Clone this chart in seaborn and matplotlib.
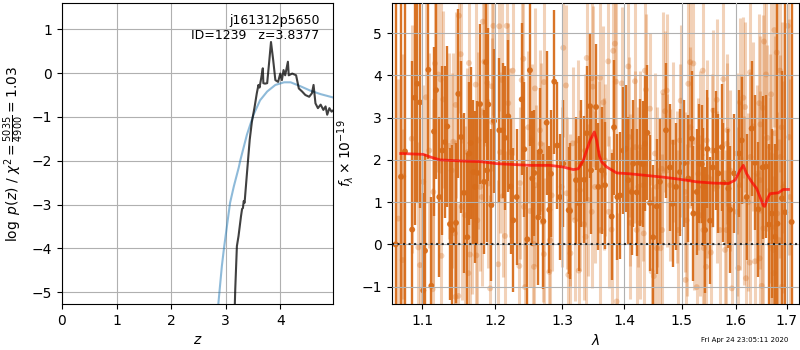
import matplotlib
matplotlib.use("Agg")
import matplotlib.pyplot as plt
from matplotlib.ticker import NullLocator, NullFormatter, FixedLocator, FixedFormatter
import seaborn as sns

# ---------------- redshift probability ----------------
z_grid = [3.16, 3.175, 3.205, 3.235, 3.28, 3.30, 3.316, 3.33, 3.346, 3.39,
          3.44, 3.48, 3.53, 3.57, 3.60, 3.62, 3.65, 3.68, 3.69, 3.72,
          3.76, 3.80, 3.83, 3.87, 3.91, 3.96, 4.00, 4.03, 4.06, 4.09,
          4.14, 4.155, 4.22, 4.29, 4.34, 4.40, 4.46, 4.53, 4.58, 4.61,
          4.645, 4.69, 4.74, 4.79, 4.83, 4.86, 4.90, 4.94, 4.98]
log_pz = [-5.6, -4.93, -3.95, -3.72, -3.27, -3.10, -3.08, -2.92, -2.96, -2.28,
          -1.52, -1.11, -0.77, -0.46, -0.27, -0.33, -0.12, 0.11, -0.23, -0.24,
          -0.23, 0.30, 0.71, 0.30, -0.16, -0.20, -0.01, -0.16, 0.07, -0.05,
          0.26, -0.05, -0.01, -0.05, -0.35, -0.42, -0.50, -0.54, -0.46, -0.27,
          -0.69, -0.80, -0.72, -0.84, -0.76, -0.95, -0.80, -0.88, -0.84]

z_chi2 = [2.84, 2.93, 2.97, 3.08, 3.15, 3.24, 3.27, 3.39, 3.51, 3.63,
          3.76, 3.91, 4.07, 4.19, 4.37, 4.55, 4.74, 4.98]
chi2_curve = [-5.6, -4.40, -3.98, -2.96, -2.58, -2.15, -1.98, -1.40, -0.95, -0.62,
              -0.42, -0.27, -0.21, -0.21, -0.30, -0.40, -0.48, -0.56]

# ---------------- binned spectrum ----------------
bin_wave = [1.0655, 1.0724, 1.0775, 1.0868, 1.0903, 1.0932, 1.0970, 1.1013, 1.1036, 1.1080,
            1.1120, 1.1155, 1.1182, 1.1226, 1.1266, 1.1303, 1.1333, 1.1370, 1.1401, 1.1452,
            1.1484, 1.1521, 1.1562, 1.1608, 1.1635, 1.1655, 1.1692, 1.1715, 1.1748, 1.1786,
            1.1843, 1.1871, 1.1885, 1.1903, 1.1946, 1.1985, 1.2060, 1.2113, 1.2142, 1.2190,
            1.2225, 1.2263, 1.2313, 1.2387, 1.2426, 1.2471, 1.2510, 1.2545, 1.2575, 1.2635,
            1.2661, 1.2711, 1.2762, 1.2802, 1.2828, 1.2879, 1.2925, 1.2967, 1.3018, 1.3103,
            1.3123, 1.3218, 1.3270, 1.3292, 1.3348, 1.3388, 1.3441, 1.3457, 1.3538, 1.3575,
            1.3630, 1.3684, 1.3794, 1.3832, 1.3887, 1.3931, 1.3986, 1.4031, 1.4070, 1.4127,
            1.4154, 1.4212, 1.4267, 1.4313, 1.4353, 1.4393, 1.4439, 1.4496, 1.4555, 1.4612,
            1.4718, 1.4788, 1.4836, 1.4895, 1.4966, 1.5038, 1.5116, 1.5178, 1.5207, 1.5269,
            1.5317, 1.5360, 1.5390, 1.5421, 1.5463, 1.5514, 1.5564, 1.5625, 1.5668, 1.5732,
            1.5762, 1.5857, 1.5889, 1.5965, 1.6065, 1.6111, 1.6207, 1.6304, 1.6369, 1.6434,
            1.6520, 1.6587, 1.6642, 1.6702, 1.6768, 1.6815, 1.6904, 1.6971, 1.7102]
bin_flux = [0.00, 1.60, 2.20, 0.35, 3.47, 3.80, 3.36, -1.09, -0.15, 4.13,
            -0.98, 2.67, 3.65, 1.12, 2.22, 2.42, 2.79, 0.48, 0.34, 0.51,
            3.56, 2.54, 1.22, 0.17, 2.15, 2.40, 1.71, 1.36, 1.69, 3.32,
            1.48, 4.31, 1.75, 3.31, 0.93, 2.92, 2.70, 2.70, 2.52, 3.03,
            1.37, 0.57, 1.12, 3.43, 2.25, 0.12, 4.12, 1.56, 1.69, 0.64,
            2.20, 0.55, 2.88, 0.82, 1.67, 3.85, 2.34, 1.12, 1.91, 0.81,
            0.79, 1.52, 0.97, 1.91, 1.53, 2.63, 3.27, 1.75, 3.25, 1.36,
            1.75, 1.40, 0.66, 2.77, 1.12, 1.16, 2.22, 2.26, 1.52, 1.24,
            1.91, 1.23, 1.93, 1.90, 2.38, 2.64, 0.98, 0.17, 0.90, 1.48,
            2.70, 1.82, 0.96, 1.36, 1.71, 1.92, 1.56, 2.50, 0.73, 1.24,
            1.91, 1.90, 1.36, 0.34, 2.26, 0.56, 1.82, 2.22, 1.68, 2.30,
            1.46, 1.32, 0.82, 1.68, 2.15, 2.46, 1.12, 2.74, 1.93, 0.83,
            1.82, 1.84, 0.47, 0.73, 0.18, 0.49, 1.09, 0.76, 0.53]
bin_err = [9.0, 5.0, 4.5, 4.0, 3.0, 2.8, 2.5, 2.3, 2.3, 2.1,
           2.1, 2.0, 2.1, 1.9, 2.0, 1.8, 1.9, 1.8, 2.0, 1.9,
           2.0, 1.8, 1.9, 2.0, 1.7, 1.8, 1.7, 1.8, 1.7, 1.9,
           1.7, 1.9, 1.7, 1.8, 1.8, 1.7, 1.7, 1.6, 1.7, 1.8,
           1.6, 1.7, 1.6, 1.8, 1.6, 1.7, 1.8, 1.6, 1.5, 1.6,
           1.5, 1.6, 1.7, 1.5, 1.5, 1.7, 1.5, 1.5, 1.5, 1.5,
           1.6, 1.5, 1.6, 1.5, 1.5, 1.6, 1.7, 1.5, 1.5, 1.5,
           1.5, 1.5, 1.5, 1.6, 1.5, 1.5, 1.5, 1.5, 1.5, 1.5,
           1.5, 1.5, 1.5, 1.5, 1.6, 1.6, 1.6, 1.7, 1.6, 1.5,
           1.6, 1.5, 1.5, 1.5, 1.5, 1.5, 1.5, 1.6, 1.6, 1.5,
           1.4, 1.4, 1.4, 1.5, 1.4, 1.5, 1.4, 1.4, 1.4, 1.5,
           1.4, 1.4, 1.5, 1.4, 1.5, 1.5, 1.5, 1.6, 1.6, 1.6,
           1.7, 1.7, 1.9, 2.0, 2.2, 6.0, 3.0, 8.0, 8.0]

# ---------------- individual exposures ----------------
exp_wave = [1.0689, 1.0745, 1.0753, 1.0862, 1.0948, 1.0970, 1.1013, 1.1049, 1.1092, 1.1137, 1.1146,
            1.1168, 1.1212, 1.1244, 1.1255, 1.1279, 1.1361, 1.1393, 1.1415, 1.1438, 1.1445, 1.1448,
            1.1484, 1.1493, 1.1517, 1.1530, 1.1576, 1.1608, 1.1622, 1.1631, 1.1645, 1.1669, 1.1725,
            1.1735, 1.1747, 1.1762, 1.1786, 1.1810, 1.1824, 1.1846, 1.1889, 1.1903, 1.1928, 1.1952,
            1.1975, 1.2060, 1.2167, 1.2095, 1.2254, 1.2387, 1.2411, 1.2585, 1.2722, 1.3018,
            1.3061, 1.3388, 1.3468, 1.1960, 1.2190, 1.2485, 1.2661, 1.2536, 1.2671, 1.3165,
            1.3254, 1.3361, 1.2070, 1.2215, 1.2109, 1.2362, 1.2595, 1.2839, 1.2993, 1.3071,
            1.3280, 1.3414, 1.2420, 1.2510, 1.2711, 1.3123, 1.3201, 1.3343, 1.2142, 1.2560,
            1.2813, 1.3130, 1.3370, 1.2045, 1.2352, 1.2570, 1.2720, 1.2802, 1.3097, 1.3260, 1.2436,
            1.3737, 1.3819, 1.3846, 1.3602, 1.3862, 1.3959, 1.4182, 1.4353,
            1.4370, 1.4070, 1.4439, 1.3484, 1.3656, 1.4670, 1.4729, 1.4700,
            1.4979, 1.5116, 1.5147, 1.3591, 1.3684, 1.4080, 1.4190, 1.4267,
            1.4526, 1.4642, 1.4740, 1.4847, 1.4966, 1.5155, 1.3521, 1.3665,
            1.4098, 1.4238, 1.4324, 1.4555, 1.4788, 1.4907, 1.5057, 1.3468,
            1.3610, 1.3745, 1.3792, 1.4105, 1.4211, 1.4275, 1.4332, 1.4650,
            1.4936, 1.5087, 1.4560, 1.4620, 1.4468, 1.4505, 1.5065, 1.3874,
            1.5206, 1.5378, 1.5761, 1.6078, 1.6142, 1.6175, 1.6271, 1.6547,
            1.6587, 1.6753, 1.6800, 1.6865, 1.7021, 1.6688, 1.6453, 1.6521,
            1.5575, 1.5637, 1.5838, 1.6336, 1.6475, 1.6614, 1.6766, 1.6899,
            1.7053, 1.5327, 1.5451, 1.5545, 1.5826, 1.6015, 1.6090, 1.6280,
            1.6668, 1.6875, 1.5296, 1.5460, 1.5645, 1.5889, 1.6070, 1.6402,
            1.6467, 1.6660, 1.6932, 1.5215, 1.5335, 1.5390, 1.5698, 1.5820,
            1.6020, 1.6150, 1.6238, 1.6533, 1.6701, 1.6810, 1.7067, 1.5400,
            1.5439, 1.5527, 1.5794, 1.6046, 1.6265, 1.6369, 1.6460, 1.6675,
            1.6734, 1.6852, 1.5921, 1.6194, 1.6501, 1.6740, 1.6905, 1.5268]
exp_flux = [0.61, -0.37, 1.61, 2.50, -0.07, -0.49, 1.48, 3.48, 2.22, -1.06, 1.24,
            4.28, 4.02, 3.90, -0.27, 3.43, 2.33, 1.75, 2.43, 0.26, -1.24, 3.30,
            -1.22, 5.41, 4.50, 0.89, 0.69, 2.18, -0.68, 4.29, -0.24, 0.93, 3.78,
            -0.26, 0.57, 2.46, 1.36, 1.12, 5.27, 4.32, 3.82, 1.44, -1.04, 3.74,
            5.17, 5.16, 5.17, 3.89, 4.11, 3.89, 4.39, 3.69, 3.84, 4.65,
            3.76, 4.41, 3.93, 2.89, 3.34, 2.77, 2.70, 2.46, 2.38, 2.39,
            2.46, 2.22, 2.18, 2.18, 1.14, 1.45, 1.40, 1.16, 1.36, 1.21,
            1.28, 1.05, 0.89, 0.79, 0.53, 0.82, 0.57, 0.48, 0.20, 0.02,
            0.10, -0.21, 0.18, -0.47, -0.51, -0.53, -0.23, -0.65, -0.72, -0.62, -1.01,
            4.33, 4.58, 4.75, 3.94, 3.85, 3.81, 3.86, 4.11,
            3.66, 4.21, 3.21, 3.73, 3.36, 3.60, 3.64, 3.15,
            3.40, 3.80, 4.31, 2.07, 1.99, 2.54, 2.30, 2.30,
            2.15, 1.79, 1.75, 2.42, 2.46, 2.77, 1.36, 1.67,
            1.28, 1.36, 1.40, 1.36, 1.40, 1.36, 1.24, 0.77,
            0.34, 0.77, 0.35, 0.51, 0.34, 0.51, 0.26, 0.34,
            0.34, 0.57, -0.09, -0.09, -0.64, -0.75, -0.84, -1.35,
            4.28, 4.11, 3.91, 3.36, 3.47, 3.25, 4.07, 4.80,
            4.02, 5.07, 4.54, 4.11, 5.17, 3.55, 3.34, 3.23,
            3.17, 3.42, 2.70, 2.79, 2.84, 2.52, 2.63, 2.77,
            2.54, 2.30, 2.46, 2.22, 2.38, 2.15, 2.03, 2.07,
            2.30, 2.07, 1.67, 1.59, 1.36, 1.75, 1.40, 1.67,
            1.52, 1.28, 1.36, 0.73, 0.69, 0.34, 0.34, 0.34,
            0.77, 1.04, 1.00, 0.38, 0.41, 0.73, 1.12, -0.09,
            -0.53, -0.19, -0.13, -0.56, -0.43, -0.40, -0.33, -0.02,
            -0.13, 0.10, -1.04, -0.80, -0.98, -0.68, -1.00, -1.01]
exp_err = [3.3, 3.1, 2.9, 2.7, 2.5, 2.6, 2.3, 2.5, 2.3, 2.4, 2.2,
           2.4, 2.3, 2.2, 2.3, 2.1, 2.2, 2.3, 2.1, 2.2, 2.3, 2.2,
           2.2, 2.3, 2.1, 2.2, 2.1, 2.0, 2.2, 2.1, 2.0, 2.1, 2.1,
           2.1, 2.0, 2.1, 2.0, 2.1, 2.2, 2.0, 2.1, 2.0, 2.2, 2.0,
           2.1, 2.0, 2.1, 1.9, 2.0, 1.9, 2.0, 1.9, 2.0, 2.1,
           1.9, 2.0, 1.9, 2.0, 1.9, 1.8, 1.9, 1.8, 1.9, 1.8,
           1.9, 1.8, 1.9, 2.0, 1.9, 1.8, 1.9, 1.8, 1.9, 1.8,
           1.9, 1.8, 1.9, 1.8, 1.9, 1.8, 1.9, 1.8, 2.0, 1.9,
           1.8, 1.9, 1.8, 2.0, 1.9, 1.9, 1.8, 1.9, 1.8, 1.9, 2.0,
           2.0, 1.9, 2.0, 1.9, 1.9, 1.8, 1.9, 2.0,
           1.8, 1.9, 1.8, 1.9, 1.8, 1.9, 1.8, 1.9,
           1.8, 1.9, 2.0, 1.8, 1.8, 1.9, 1.8, 1.8,
           1.9, 1.8, 1.8, 1.9, 1.8, 1.9, 1.8, 1.8,
           1.8, 1.9, 1.8, 1.9, 1.8, 1.8, 1.9, 1.8,
           1.9, 1.8, 1.9, 1.8, 1.9, 1.8, 1.9, 1.8,
           1.9, 1.8, 1.9, 1.8, 2.0, 1.9, 2.0, 2.1,
           1.9, 2.0, 1.9, 2.0, 1.9, 2.0, 2.1, 2.2,
           2.2, 2.3, 2.3, 2.4, 2.7, 2.2, 2.1, 2.2,
           1.9, 1.9, 1.8, 2.0, 2.1, 2.2, 2.3, 2.5,
           2.8, 1.8, 1.9, 1.8, 1.9, 1.9, 2.0, 2.0,
           2.2, 2.4, 1.8, 1.9, 1.8, 1.9, 2.0, 2.1,
           2.1, 2.2, 2.5, 1.8, 1.9, 1.8, 1.9, 1.9,
           2.0, 2.0, 2.1, 2.2, 2.3, 2.4, 2.8, 1.9,
           1.9, 1.8, 1.9, 2.0, 2.0, 2.1, 2.1, 2.2,
           2.3, 2.4, 2.0, 2.0, 2.1, 2.3, 2.5, 1.9]

# ---------------- best-fit model ----------------
model_wave = [1.0720, 1.1013, 1.1102, 1.1235, 1.1552, 1.1786, 1.2022, 1.2263, 1.2510, 1.2813,
              1.3018, 1.3175, 1.3254, 1.3334, 1.3441, 1.3510, 1.3548, 1.3591, 1.3630, 1.3712,
              1.3877, 1.4098, 1.4381, 1.4670, 1.4966, 1.5269, 1.5575, 1.5857, 1.5984, 1.6078,
              1.6142, 1.6207, 1.6304, 1.6402, 1.6533, 1.6560, 1.6620, 1.6668, 1.6830, 1.6932,
              1.7037]
model_flux = [2.15, 2.13, 2.07, 2.00, 1.97, 1.96, 1.91, 1.89, 1.87, 1.87,
              1.83, 1.77, 1.79, 1.99, 2.46, 2.66, 2.46, 2.10, 1.95, 1.83,
              1.69, 1.67, 1.63, 1.59, 1.54, 1.48, 1.45, 1.44, 1.52, 1.75,
              1.87, 1.67, 1.48, 1.32, 0.92, 0.90, 1.10, 1.20, 1.22, 1.30,
              1.30]

lam_ticks = [1.1, 1.2, 1.3, 1.4, 1.5, 1.6, 1.7]
lam_tick_labels = ["1.1", "1.2", "1.3", "1.4", "1.5", "1.6", "1.7"]

spec_color = "#d76c1a"

fig = plt.figure(figsize=(8, 3.5), dpi=100)
ax1 = fig.add_axes([0.0775, 0.1314, 0.339, 0.86])
ax2 = fig.add_axes([0.4896, 0.1314, 0.5096, 0.86])

# ---- left: p(z)
sns.lineplot(x=z_chi2, y=chi2_curve, ax=ax1, color="tab:blue", alpha=0.5,
             linewidth=1.5, estimator=None, sort=False)
sns.lineplot(x=z_grid, y=log_pz, ax=ax1, color="k", alpha=0.75,
             linewidth=1.5, estimator=None, sort=False)
ax1.set_xlim(0, 4.97)
ax1.set_ylim(-5.27, 1.6)
ax1.set_xticks([0, 1, 2, 3, 4])
ax1.set_yticks([-5, -4, -3, -2, -1, 0, 1])
ax1.grid(True)
ax1.set_xlabel(r"$z$")
ax1.set_ylabel(r"$\log\ p(z)$ / $\chi^2=\frac{5035}{4900}=1.03$")
ax1.text(0.95, 0.965, "j161312p5650\nID=1239   z=3.8377", transform=ax1.transAxes,
         ha="right", va="top", multialignment="right", fontsize=9)

# ---- right: spectrum
ax2.errorbar(exp_wave, exp_flux, yerr=exp_err, fmt="none", ecolor=spec_color,
             alpha=0.3, elinewidth=2.2, zorder=1)
sns.scatterplot(x=exp_wave, y=exp_flux, ax=ax2, color=spec_color, alpha=0.3,
                s=18, edgecolor="none", zorder=1)
ax2.errorbar(bin_wave, bin_flux, yerr=bin_err, fmt="none", ecolor=spec_color,
             alpha=0.95, elinewidth=1.7, zorder=2)
sns.scatterplot(x=bin_wave, y=bin_flux, ax=ax2, color=spec_color, alpha=0.95,
                s=18, edgecolor="none", zorder=2)
sns.lineplot(x=model_wave, y=model_flux, ax=ax2, color="red", alpha=0.7,
             linewidth=2, estimator=None, sort=False, zorder=3)
ax2.axhline(0, color="k", linestyle=":", linewidth=1.5, alpha=0.8, zorder=4)

ax2.set_xscale("log")
ax2.set_xlim(1.0605, 1.726)
ax2.set_ylim(-1.41, 5.71)
ax2.xaxis.set_major_locator(FixedLocator(lam_ticks))
ax2.xaxis.set_major_formatter(FixedFormatter(lam_tick_labels))
ax2.xaxis.set_minor_locator(NullLocator())
ax2.xaxis.set_minor_formatter(NullFormatter())
ax2.set_yticks([-1, 0, 1, 2, 3, 4, 5])
ax2.set_axisbelow(False)
ax2.grid(True)
ax2.set_xlabel(r"$\lambda$")
ax2.set_ylabel(r"$f_\lambda\times10^{-19}$")

fig.text(0.985, 0.029, "Fri Apr 24 23:05:11 2020", ha="right", va="center", fontsize=5)

fig.savefig("out.png", dpi=100)
